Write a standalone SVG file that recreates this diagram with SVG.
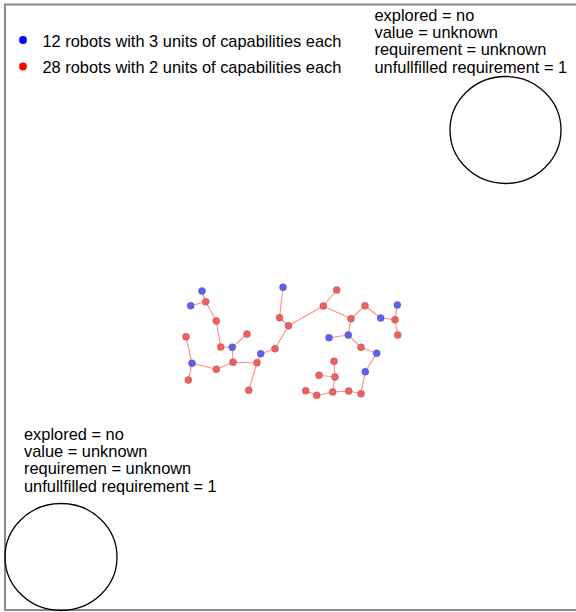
<svg xmlns="http://www.w3.org/2000/svg" width="576" height="612" viewBox="0 0 576 612">
<style>
text{font-family:"Liberation Sans",Arial,sans-serif;font-size:16.4px;fill:#000}
.e{stroke:#ff8c8c;stroke-width:1.1;fill:none}
.r{fill:#f06060;stroke:#a05050;stroke-opacity:.45;stroke-width:1}
.b{fill:#6060f0;stroke:#5050a0;stroke-opacity:.45;stroke-width:1}
.reg{fill:none;stroke:#000;stroke-width:1.3}
</style>
<rect x="0" y="0" width="576" height="612" fill="#fff"/>
<rect x="5" y="4.5" width="580" height="605.5" fill="none" stroke="#8a8a8a" stroke-width="2"/>
<g id="legend">
<circle cx="23" cy="40" r="3.9" fill="#0000ff"/>
<text x="42.5" y="46.5">12 robots with 3 units of capabilities each</text>
<circle cx="23" cy="66.5" r="3.9" fill="#ff0000"/>
<text x="42.5" y="73">28 robots with 2 units of capabilities each</text>
</g>
<g id="region-top-right">
<text x="374.5" y="20.7">explored = no</text>
<text x="374.5" y="38">value = unknown</text>
<text x="374.5" y="55.3">requirement = unknown</text>
<text x="374.5" y="72.6">unfullfilled requirement = 1</text>
<ellipse class="reg" cx="505.5" cy="130" rx="55.5" ry="53.5"/>
</g>
<g id="region-bottom-left">
<text x="24" y="439.5">explored = no</text>
<text x="24" y="456.8">value = unknown</text>
<text x="24" y="474.1">requiremen = unknown</text>
<text x="24" y="491.5">unfullfilled requirement = 1</text>
<ellipse class="reg" cx="61" cy="557" rx="56" ry="53.5"/>
</g>
<g id="connectors">
<line class="e" x1="202" y1="291" x2="205.7" y2="301.7"/>
<line class="e" x1="190.7" y1="305.7" x2="205.7" y2="301.7"/>
<line class="e" x1="205.7" y1="301.7" x2="216.3" y2="321"/>
<line class="e" x1="216.3" y1="321" x2="220.7" y2="347"/>
<line class="e" x1="220.7" y1="347" x2="232.3" y2="347.3"/>
<line class="e" x1="232.3" y1="347.3" x2="247" y2="334"/>
<line class="e" x1="232.3" y1="347.3" x2="233" y2="362.3"/>
<line class="e" x1="186" y1="336.7" x2="192" y2="363.3"/>
<line class="e" x1="192" y1="363.3" x2="188.3" y2="380"/>
<line class="e" x1="192" y1="363.3" x2="216.3" y2="369.3"/>
<line class="e" x1="216.3" y1="369.3" x2="233" y2="362.3"/>
<line class="e" x1="233" y1="362.3" x2="257" y2="362.7"/>
<line class="e" x1="257" y1="362.7" x2="248.7" y2="390.3"/>
<line class="e" x1="257" y1="362.7" x2="260.7" y2="353.7"/>
<line class="e" x1="260.7" y1="353.7" x2="275" y2="348.7"/>
<line class="e" x1="275" y1="348.7" x2="288.5" y2="325.7"/>
<line class="e" x1="279.5" y1="317.7" x2="288.5" y2="325.7"/>
<line class="e" x1="283" y1="287.3" x2="279.5" y2="317.7"/>
<line class="e" x1="288.5" y1="325.7" x2="323.3" y2="306"/>
<line class="e" x1="323.3" y1="306" x2="336.7" y2="290"/>
<line class="e" x1="323.3" y1="306" x2="351" y2="318.7"/>
<line class="e" x1="351" y1="318.7" x2="365" y2="305.7"/>
<line class="e" x1="365" y1="305.7" x2="380.7" y2="318"/>
<line class="e" x1="380.7" y1="318" x2="395" y2="319.7"/>
<line class="e" x1="395" y1="319.7" x2="397.3" y2="305"/>
<line class="e" x1="395" y1="319.7" x2="397.7" y2="335"/>
<line class="e" x1="351" y1="318.7" x2="348.3" y2="335"/>
<line class="e" x1="348.3" y1="335" x2="329" y2="337.7"/>
<line class="e" x1="348.3" y1="335" x2="361" y2="347.3"/>
<line class="e" x1="361" y1="347.3" x2="376.7" y2="353.3"/>
<line class="e" x1="376.7" y1="353.3" x2="365.3" y2="371.7"/>
<line class="e" x1="365.3" y1="371.7" x2="361" y2="393.7"/>
<line class="e" x1="361" y1="393.7" x2="348.7" y2="391"/>
<line class="e" x1="348.7" y1="391" x2="332.7" y2="392"/>
<line class="e" x1="332.7" y1="392" x2="316.7" y2="395.3"/>
<line class="e" x1="316.7" y1="395.3" x2="305.7" y2="390.7"/>
<line class="e" x1="332.7" y1="392" x2="335" y2="377"/>
<line class="e" x1="335" y1="377" x2="319" y2="375.3"/>
<line class="e" x1="335" y1="377" x2="334" y2="361.3"/>
</g>
<g id="robots-blue">
<circle class="b" cx="202" cy="291" r="3.5"/>
<circle class="b" cx="190.7" cy="305.7" r="3.5"/>
<circle class="b" cx="232.3" cy="347.3" r="3.5"/>
<circle class="b" cx="192" cy="363.3" r="3.5"/>
<circle class="b" cx="260.7" cy="353.7" r="3.5"/>
<circle class="b" cx="283" cy="287.3" r="3.5"/>
<circle class="b" cx="380.7" cy="318" r="3.5"/>
<circle class="b" cx="397.3" cy="305" r="3.5"/>
<circle class="b" cx="348.3" cy="335" r="3.5"/>
<circle class="b" cx="329" cy="337.7" r="3.5"/>
<circle class="b" cx="376.7" cy="353.3" r="3.5"/>
<circle class="b" cx="365.3" cy="371.7" r="3.5"/>
</g>
<g id="robots-red">
<circle class="r" cx="205.7" cy="301.7" r="3.5"/>
<circle class="r" cx="216.3" cy="321" r="3.5"/>
<circle class="r" cx="220.7" cy="347" r="3.5"/>
<circle class="r" cx="247" cy="334" r="3.5"/>
<circle class="r" cx="186" cy="336.7" r="3.5"/>
<circle class="r" cx="188.3" cy="380" r="3.5"/>
<circle class="r" cx="216.3" cy="369.3" r="3.5"/>
<circle class="r" cx="233" cy="362.3" r="3.5"/>
<circle class="r" cx="257" cy="362.7" r="3.5"/>
<circle class="r" cx="248.7" cy="390.3" r="3.5"/>
<circle class="r" cx="275" cy="348.7" r="3.5"/>
<circle class="r" cx="288.5" cy="325.7" r="3.5"/>
<circle class="r" cx="279.5" cy="317.7" r="3.5"/>
<circle class="r" cx="323.3" cy="306" r="3.5"/>
<circle class="r" cx="336.7" cy="290" r="3.5"/>
<circle class="r" cx="351" cy="318.7" r="3.5"/>
<circle class="r" cx="365" cy="305.7" r="3.5"/>
<circle class="r" cx="395" cy="319.7" r="3.5"/>
<circle class="r" cx="397.7" cy="335" r="3.5"/>
<circle class="r" cx="361" cy="347.3" r="3.5"/>
<circle class="r" cx="361" cy="393.7" r="3.5"/>
<circle class="r" cx="348.7" cy="391" r="3.5"/>
<circle class="r" cx="332.7" cy="392" r="3.5"/>
<circle class="r" cx="316.7" cy="395.3" r="3.5"/>
<circle class="r" cx="305.7" cy="390.7" r="3.5"/>
<circle class="r" cx="335" cy="377" r="3.5"/>
<circle class="r" cx="319" cy="375.3" r="3.5"/>
<circle class="r" cx="334" cy="361.3" r="3.5"/>
</g>
</svg>
